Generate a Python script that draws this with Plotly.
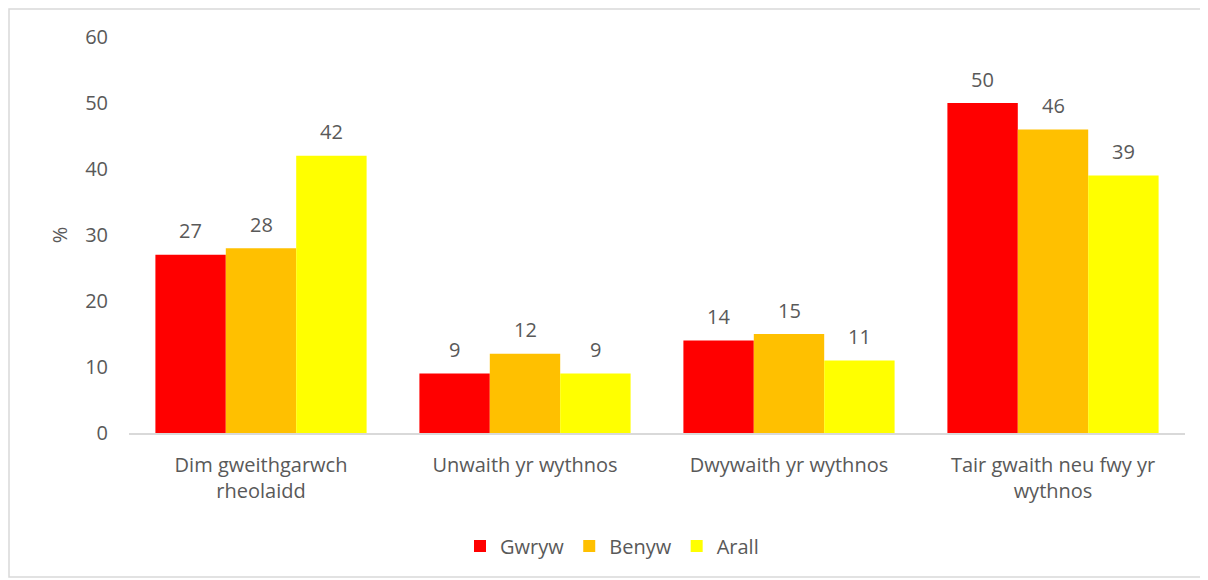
import plotly.graph_objects as go

categories = ["Dim gweithgarwch<br>rheolaidd", "Unwaith yr wythnos",
              "Dwywaith yr wythnos", "Tair gwaith neu fwy yr<br>wythnos"]
gwryw = [27, 9, 14, 50]
benyw = [28, 12, 15, 46]
arall = [42, 9, 11, 39]
series = [("Gwryw", gwryw, "#FF0000"), ("Benyw", benyw, "#FFC000"), ("Arall", arall, "#FFFF00")]

FONT = "Open Sans"
TXT = "#595959"
FS = 20

OFF = 8  # page body offset
W, H = 1208 - OFF, 580 - OFF
L, R, T, B = 129 - OFF, 23, 37 - OFF, 147
pw, ph = W - L - R, H - T - B
BARGAP = 0.2

def py(pix):  # page pixel y -> paper y
    return (T + ph - (pix - OFF)) / ph

def px(pix):
    return ((pix - OFF) - L) / pw

fig = go.Figure()
annotations = []
cat_w = pw / len(categories)
bar_w = cat_w * (1 - BARGAP) / len(series)
for i, (name, vals, col) in enumerate(series):
    fig.add_trace(go.Bar(
        x=categories, y=vals, name=name, marker=dict(color=col, line=dict(width=0)),
    ))
    shift = (i - (len(series) - 1) / 2) * bar_w
    for c, v in zip(categories, vals):
        annotations.append(dict(x=c, y=v, xref="x", yref="y", text=str(v), showarrow=False,
                                xshift=shift, yshift=24, yanchor="middle",
                                font=dict(family=FONT, size=FS, color=TXT)))

fig.update_layout(
    width=W, height=H,
    margin=dict(l=L, r=R, t=T, b=B),
    paper_bgcolor="white", plot_bgcolor="white",
    barmode="group", bargap=BARGAP, bargroupgap=0,
    font=dict(family=FONT, size=FS, color=TXT),
    showlegend=True,
    legend=dict(orientation="h", x=0.5 - 45 / pw, xanchor="center", y=py(546), yanchor="middle",
                font=dict(family=FONT, size=FS, color=TXT), itemwidth=30, traceorder="normal"),
    xaxis=dict(showgrid=False, showline=True, linecolor="#D9D9D9", linewidth=1.5,
               ticks="", ticklabelstandoff=13, tickfont=dict(family=FONT, size=FS, color=TXT)),
    yaxis=dict(range=[0, 60], dtick=10, showgrid=False, showline=False, zeroline=False,
               ticks="", ticklabelstandoff=20,
               tickfont=dict(family=FONT, size=FS, color=TXT),
               title=dict(text="%", font=dict(family=FONT, size=FS, color=TXT), standoff=12)),
    annotations=annotations,
    shapes=[dict(type="rect", xref="paper", yref="paper",
                 x0=px(9), x1=px(1205), y0=py(577), y1=py(9),
                 line=dict(color="#D9D9D9", width=1.5), fillcolor="rgba(0,0,0,0)", layer="below")],
)

fig.write_html("out.html")
